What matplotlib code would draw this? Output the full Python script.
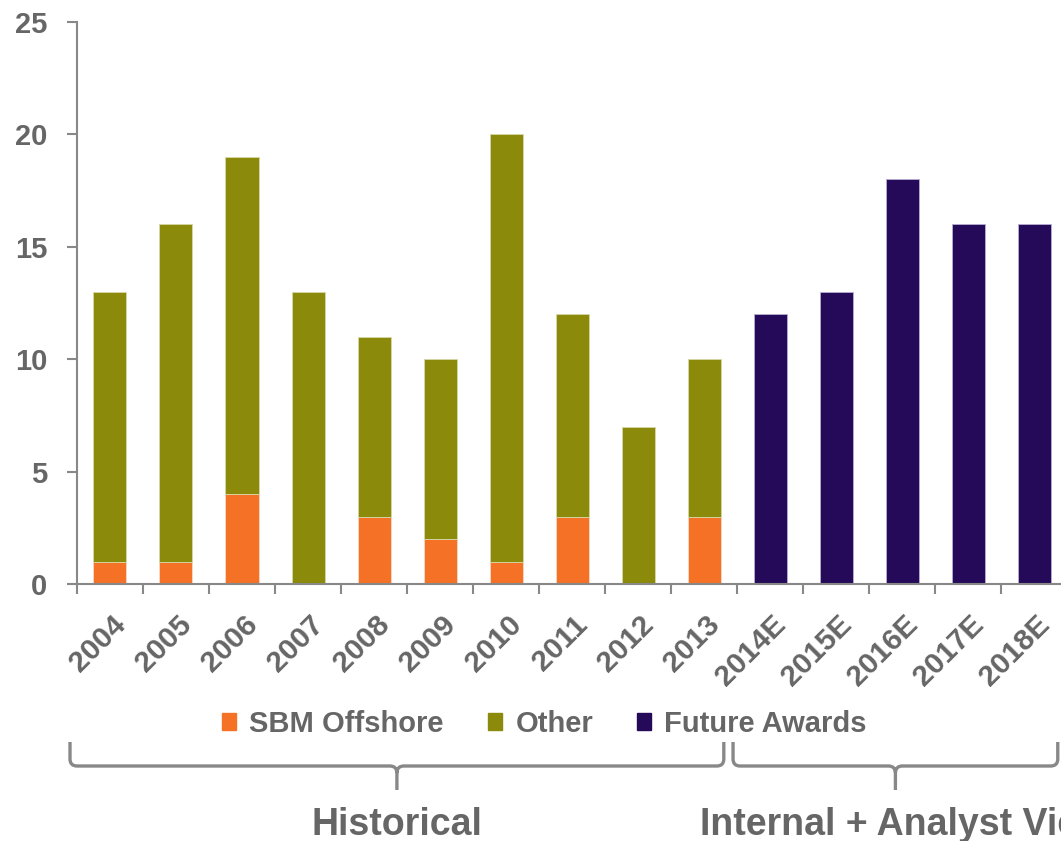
import numpy as np
import matplotlib
matplotlib.use("Agg")
import matplotlib.pyplot as plt
from matplotlib.path import Path
from matplotlib.patches import PathPatch, Patch
from matplotlib.transforms import ScaledTranslation

# data
years = ["2004", "2005", "2006", "2007", "2008", "2009", "2010", "2011", "2012", "2013"]
future_years = ["2014E", "2015E", "2016E", "2017E", "2018E"]
sbm = [1, 1, 4, 0, 3, 2, 1, 3, 0, 3]
other = [12, 15, 15, 13, 8, 8, 19, 9, 7, 7]
future = [12, 13, 18, 16, 16]

ORANGE = '#f47126'
OLIVE = '#8b8a0a'
PURPLE = '#260a5a'
GREY_TXT = '#666666'
GREY_LN = '#888888'

plt.rcParams['font.family'] = ['Liberation Sans', 'DejaVu Sans']
plt.rcParams['font.weight'] = 'bold'

fig = plt.figure(figsize=(10.61, 8.41), dpi=100)
ax = fig.add_axes([0.07257, 0.30559, 0.9331, 0.66825])

labels = years + future_years
x_hist = np.arange(len(years))
x_fut = np.arange(len(years), len(labels))

ax.bar(x_hist, sbm, width=0.5, color=ORANGE, edgecolor='#f3dcc8', linewidth=0.6)
ax.bar(x_hist, other, bottom=sbm, width=0.5, color=OLIVE, edgecolor='#d8d8a8', linewidth=0.6)
ax.bar(x_fut, future, width=0.5, color=PURPLE, edgecolor='#b8aed0', linewidth=0.6)

ax.set_xlim(-0.5, len(labels) - 0.5)
ax.set_ylim(0, 25)
ax.set_yticks([0, 5, 10, 15, 20, 25])

for s in ['top', 'right']:
    ax.spines[s].set_visible(False)
for s in ['left', 'bottom']:
    ax.spines[s].set_color(GREY_LN)
    ax.spines[s].set_linewidth(1.5)

ax.tick_params(axis='y', length=7.5, width=1.5, color=GREY_LN, pad=14,
               labelsize=21, labelcolor=GREY_TXT)

# category boundary ticks
ax.set_xticks(np.arange(-0.5, len(labels), 1.0), minor=True)
ax.tick_params(axis='x', which='minor', length=7.5, width=1.5, color=GREY_LN, direction='out')
ax.set_xticks(np.arange(len(labels)))
ax.set_xticklabels(labels, rotation=45, ha='right', va='center', rotation_mode='anchor',
                   fontsize=21.5, color=GREY_TXT, fontweight='bold')
ax.tick_params(axis='x', which='major', length=0, pad=0)
offset = ScaledTranslation(8 / 72, -26 / 72, fig.dpi_scale_trans)
for lab in ax.get_xticklabels():
    lab.set_transform(lab.get_transform() + offset)

# legend
handles = [Patch(color=ORANGE, label='SBM Offshore'),
           Patch(color=OLIVE, label='Other'),
           Patch(color=PURPLE, label='Future Awards')]
leg = fig.legend(handles=handles, loc='center', bbox_to_anchor=(0.513, 0.139), ncol=3,
                 frameon=False, handlelength=0.5, handleheight=0.5, handletextpad=0.45,
                 columnspacing=1.5, prop={'size': 21, 'weight': 'bold'})
for t in leg.get_texts():
    t.set_color(GREY_TXT)


def brace(x0, x1, xc, ytop, ymid, ybot, r=7):
    # all in figure pixels (y from top)
    W, H = fig.get_size_inches() * fig.dpi
    pts = [(x0, ytop), (x0, ymid - r), (x0, ymid), (x0 + r, ymid),
           (xc - r, ymid), (xc, ymid), (xc, ymid + r), (xc, ybot),
           (xc, ymid + r), (xc, ymid), (xc + r, ymid),
           (x1 - r, ymid), (x1, ymid), (x1, ymid - r), (x1, ytop)]
    codes = [Path.MOVETO, Path.LINETO, Path.CURVE3, Path.CURVE3,
             Path.LINETO, Path.CURVE3, Path.CURVE3, Path.LINETO,
             Path.MOVETO, Path.CURVE3, Path.CURVE3,
             Path.LINETO, Path.CURVE3, Path.CURVE3, Path.LINETO]
    verts = [(px / W, 1 - py / H) for px, py in pts]
    fig.patches.append(PathPatch(Path(verts, codes), transform=fig.transFigure,
                                 fill=False, edgecolor=GREY_LN, linewidth=2.4,
                                 capstyle='butt', joinstyle='round'))


def data_to_px(xd):
    return ax.transData.transform((xd, 0))[0]


fig.canvas.draw()
bx = [(-0.606, 9.30), (9.44, 14.36)]
centers = []
for a, b in bx:
    x0, x1 = data_to_px(a), data_to_px(b)
    xc = (x0 + x1) / 2
    centers.append(xc)
    brace(x0, x1, xc, 742, 766, 790)

W = fig.get_size_inches()[0] * fig.dpi
fig.text(centers[0] / W, 1 - 825 / 841, 'Historical', ha='center', va='center',
         fontsize=27, fontweight='bold', color=GREY_TXT)
# the right-hand caption runs off the edge, as in the source slide
fig.text(700 / W, 1 - 825 / 841, 'Internal + Analyst Views', ha='left', va='center',
         fontsize=27, fontweight='bold', color=GREY_TXT)

fig.savefig('out.png', dpi=100)
